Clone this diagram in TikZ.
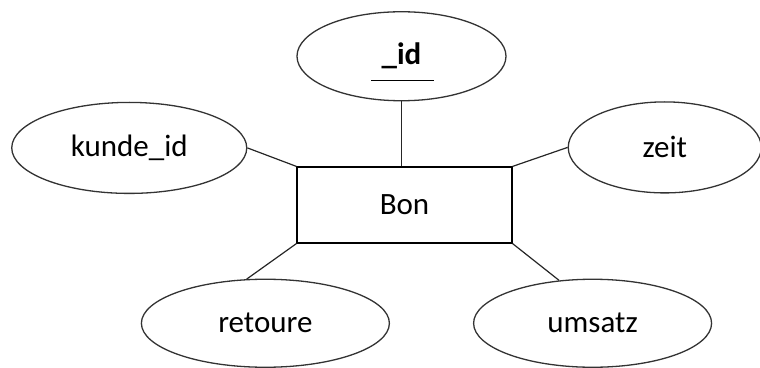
\documentclass[tikz,border=0pt]{standalone}
\usepackage{fontspec}
\setmainfont{Carlito}
\usetikzlibrary{positioning,shapes.geometric}

\begin{document}
\begin{tikzpicture}[
		every node/.style={font=\fontsize{31}{37}\selectfont},
		entity/.style={draw,rectangle,line width=1.2pt,minimum width=215pt,minimum height=76pt,inner sep=0pt},
		attr/.style={draw=black!80,ellipse,line width=1.3pt,inner sep=0pt},
		link/.style={line width=1.2pt,black!85}
	]
	\useasboundingbox (-404.5pt,-162pt) rectangle (355.5pt,205pt) ;

	\node [entity]                                                     (bon)     {Bon} ;
	\node [attr,minimum width=209pt,minimum height=89pt,above=65pt of bon,xshift=-3pt]
	                                                                   (id)      {\textbf{\_id}} ;
	\node [attr,minimum width=235pt,minimum height=91pt,left=49pt of bon.north west,yshift=18.5pt]
	                                                                   (kunde)   {kunde\_id} ;
	\node [attr,minimum width=193pt,minimum height=91pt,right=55pt of bon.north east,yshift=19pt]
	                                                                   (zeit)    {zeit} ;
	\node [attr,minimum width=248pt,minimum height=88pt,below=35pt of bon.south west,xshift=-31pt]
	                                                                   (retoure) {retoure} ;
	\node [attr,minimum width=238pt,minimum height=88pt,below=35pt of bon.south east,xshift=80pt]
	                                                                   (umsatz)  {umsatz} ;

	% primary key underline
	\draw [line width=1.4pt] ([xshift=-30.5pt,yshift=-24.5pt]id.center) -- ([xshift=32.5pt,yshift=-24.5pt]id.center) ;

	\draw [link] (id.south)       -- (id.south |- bon.north) ;
	\draw [link] (kunde.east)     -- (bon.north west) ;
	\draw [link] (bon.north east) -- (zeit.west) ;
	\draw [link] (bon.south west) -- (retoure.113) ;
	\draw [link] (bon.south east) -- (umsatz.128) ;
\end{tikzpicture}
\end{document}
